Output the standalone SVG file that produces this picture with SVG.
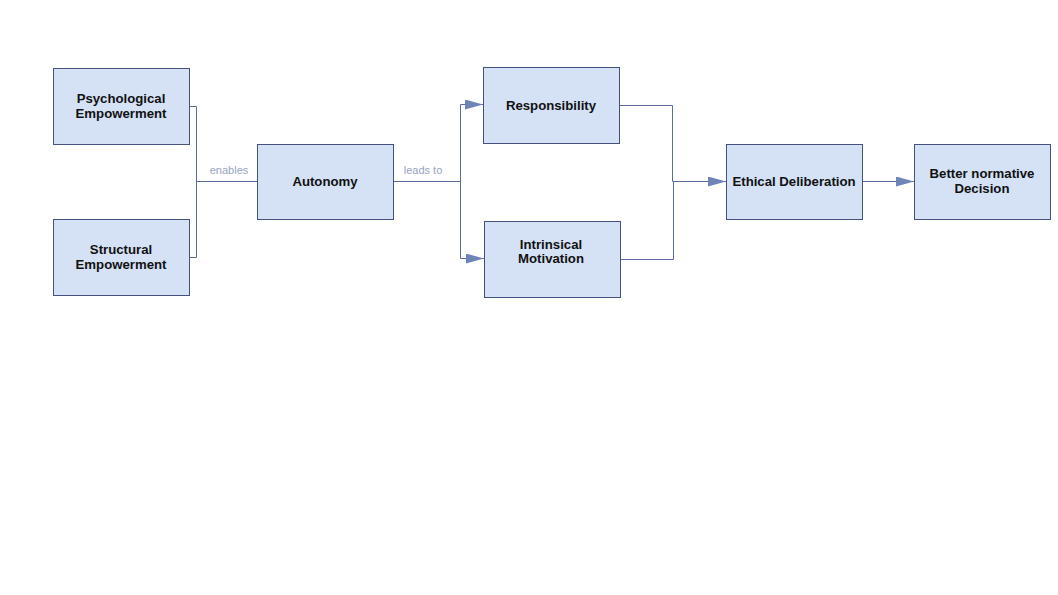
<svg xmlns="http://www.w3.org/2000/svg" width="1058" height="595" viewBox="0 0 1058 595">
<style>
.box{fill:#d5e2f6;stroke:#45527f;stroke-width:1}
.lbl{font-family:"Liberation Sans",Arial,sans-serif;font-size:13.2px;font-weight:bold;fill:#111;text-anchor:middle}
.edge{fill:none;stroke:#5d6b9a;stroke-width:1}
.elbl{font-family:"Liberation Sans",Arial,sans-serif;font-size:11px;fill:#97a3c4;text-anchor:middle}
</style>
<defs>
<marker id="arr" viewBox="0 0 18 10" refX="18" refY="5" markerWidth="18" markerHeight="10" markerUnits="userSpaceOnUse" orient="auto">
<path d="M0,0 L18,5 L0,10 Z" fill="#6f84b8"/>
</marker>
</defs>
<rect width="1058" height="595" fill="#fff"/>
<g id="connectors">
<path class="edge" d="M189,106.5 H196.5 V257.5 H189"/>
<path class="edge" d="M196.5,181.5 H257"/>
<text class="elbl" x="229" y="174">enables</text>
<path class="edge" d="M393,181.5 H460.5"/>
<path class="edge" d="M460.5,181.5 V104.5 H483" marker-end="url(#arr)"/>
<path class="edge" d="M460.5,181.5 V258.5 H484" marker-end="url(#arr)"/>
<text class="elbl" x="423" y="174">leads to</text>
<path class="edge" d="M619,105.5 H672.5 V181.5"/>
<path class="edge" d="M620,259.5 H673.5 V181.5"/>
<path class="edge" d="M672.5,181.5 H726" marker-end="url(#arr)"/>
<path class="edge" d="M862,181.5 H914" marker-end="url(#arr)"/>
</g>
<g id="psych"><rect class="box" x="53.5" y="68.5" width="136" height="76"/><text class="lbl" x="121" y="103">Psychological</text><text class="lbl" x="121" y="118">Empowerment</text></g>
<g id="struct"><rect class="box" x="53.5" y="219.5" width="136" height="76"/><text class="lbl" x="121" y="254">Structural</text><text class="lbl" x="121" y="269">Empowerment</text></g>
<g id="autonomy"><rect class="box" x="257.5" y="144.5" width="136" height="75"/><text class="lbl" x="325" y="186">Autonomy</text></g>
<g id="resp"><rect class="box" x="483.5" y="67.5" width="136" height="76"/><text class="lbl" x="551" y="110">Responsibility</text></g>
<g id="intr"><rect class="box" x="484.5" y="221.5" width="136" height="76"/><text class="lbl" x="551" y="249">Intrinsical</text><text class="lbl" x="551" y="263">Motivation</text></g>
<g id="ethical"><rect class="box" x="726.5" y="144.5" width="136" height="75"/><text class="lbl" x="794" y="186">Ethical Deliberation</text></g>
<g id="better"><rect class="box" x="914.5" y="144.5" width="136" height="75"/><text class="lbl" x="982" y="178">Better normative</text><text class="lbl" x="982" y="193">Decision</text></g>
</svg>
